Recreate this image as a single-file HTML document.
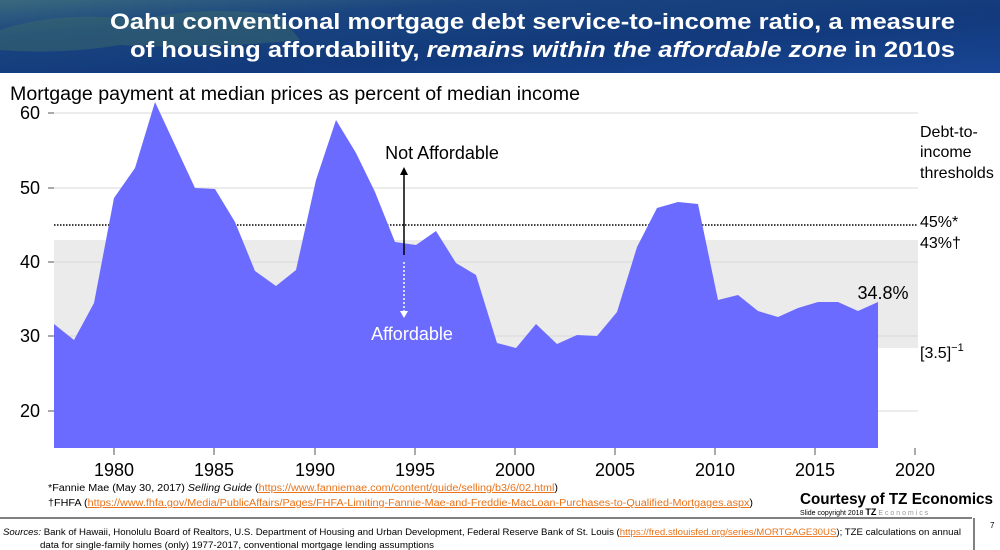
<!DOCTYPE html>
<html><head><meta charset="utf-8"><style>
html,body{margin:0;padding:0;background:#fff;}
svg{display:block;font-family:"Liberation Sans",Arial,sans-serif;}
</style></head><body>
<svg width="1000" height="550" viewBox="0 0 1000 550" xmlns="http://www.w3.org/2000/svg">
<defs>
<linearGradient id="bg" x1="0" y1="0" x2="1" y2="1">
<stop offset="0" stop-color="#3a6a7e"/><stop offset="0.25" stop-color="#1a4580"/><stop offset="0.6" stop-color="#123a7c"/><stop offset="1" stop-color="#184594"/>
</linearGradient>
</defs>
<rect x="0" y="0" width="1000" height="73" fill="url(#bg)"/>
<path d="M0 30 Q60 10 140 20 Q200 5 280 15 L300 40 Q200 50 120 45 Q60 55 0 50Z" fill="#3c6a6a" opacity="0.5"/>
<text x="955" y="29" text-anchor="end" fill="#fff" font-weight="bold" font-size="22" textLength="845" lengthAdjust="spacingAndGlyphs">Oahu conventional mortgage debt service-to-income ratio, a measure</text>
<text x="955" y="57" text-anchor="end" fill="#fff" font-weight="bold" font-size="22" textLength="825" lengthAdjust="spacingAndGlyphs">of housing affordability, <tspan font-style="italic">remains within the affordable zone</tspan> in 2010s</text>

<text x="10" y="100" font-size="19" fill="#000" textLength="570" lengthAdjust="spacingAndGlyphs">Mortgage payment at median prices as percent of median income</text>

<rect x="54" y="240" width="864" height="108" fill="#ebebeb"/>
<g stroke="#d9d9d9" stroke-width="1">
<line x1="54" y1="113" x2="918" y2="113"/><line x1="54" y1="188" x2="918" y2="188"/>
<line x1="54" y1="262" x2="918" y2="262"/><line x1="54" y1="336" x2="918" y2="336"/>
<line x1="54" y1="411" x2="918" y2="411"/>
</g>
<line x1="54" y1="225" x2="918" y2="225" stroke="#000" stroke-width="1.5" stroke-dasharray="1.5,1.5"/>
<g stroke="#555" stroke-width="1"><line x1="48" y1="113" x2="54" y2="113"/><line x1="48" y1="188" x2="54" y2="188"/><line x1="48" y1="262" x2="54" y2="262"/><line x1="48" y1="336" x2="54" y2="336"/><line x1="48" y1="411" x2="54" y2="411"/></g>

<polygon fill="#6b6bff" points="54,448 54,324 74,340 94,303 114,198 135,168 155,102 175,145 195,188 215,189 235,222 255,271 276,286 296,270 316,180 336,120 356,153 375,192 395,242 416,245 436,231 456,263 476,275 497,343 516,348 536,324 557,344 577,335 597,336 617,312 637,247 657,208 678,202 698,204 718,300 738,295 758,311 778,317 798,308 818,302 838,302 858,311 878,302 878,448"/>

<g stroke="#555" stroke-width="1">
<line x1="114" y1="448" x2="114" y2="455"/><line x1="214" y1="448" x2="214" y2="455"/><line x1="315" y1="448" x2="315" y2="455"/><line x1="415" y1="448" x2="415" y2="455"/><line x1="515" y1="448" x2="515" y2="455"/><line x1="615" y1="448" x2="615" y2="455"/><line x1="715" y1="448" x2="715" y2="455"/><line x1="815" y1="448" x2="815" y2="455"/><line x1="915" y1="448" x2="915" y2="455"/>
</g>
<g font-size="18" fill="#000" text-anchor="middle">
<text x="114" y="476">1980</text><text x="214" y="476">1985</text><text x="315" y="476">1990</text><text x="415" y="476">1995</text><text x="515" y="476">2000</text><text x="615" y="476">2005</text><text x="715" y="476">2010</text><text x="815" y="476">2015</text><text x="915" y="476">2020</text>
</g>
<g font-size="18" fill="#000" text-anchor="end">
<text x="40" y="119">60</text><text x="40" y="194">50</text><text x="40" y="268">40</text><text x="40" y="342">30</text><text x="40" y="417">20</text>
</g>

<line x1="404" y1="255" x2="404" y2="174" stroke="#000" stroke-width="1.5"/>
<polygon points="404,167 400,175 408,175" fill="#000"/>
<line x1="404" y1="262" x2="404" y2="312" stroke="#fff" stroke-width="1.5" stroke-dasharray="2,2"/>
<polygon points="404,318 400,311 408,311" fill="#fff"/>
<text x="442" y="159" font-size="18" text-anchor="middle" fill="#000">Not Affordable</text>
<text x="412" y="340" font-size="18" text-anchor="middle" fill="#fff">Affordable</text>
<text x="883" y="299" font-size="18" text-anchor="middle" fill="#000">34.8%</text>

<g font-size="16" fill="#000">
<text x="920" y="137">Debt-to-</text><text x="920" y="157">income</text><text x="920" y="178">thresholds</text>
<text x="920" y="227">45%*</text><text x="920" y="248">43%†</text>
<text x="920" y="358">[3.5]<tspan font-size="11" dy="-7">−1</tspan></text>
</g>

<g font-size="10" fill="#000">
<text x="48" y="491" textLength="510" lengthAdjust="spacingAndGlyphs">*Fannie Mae (May 30, 2017) <tspan font-style="italic">Selling Guide</tspan> (<tspan fill="#e8731a" text-decoration="underline">https://www.fanniemae.com/content/guide/selling/b3/6/02.html</tspan>)</text>
<text x="48" y="506" textLength="705" lengthAdjust="spacingAndGlyphs">†FHFA (<tspan fill="#e8731a" text-decoration="underline">https://www.fhfa.gov/Media/PublicAffairs/Pages/FHFA-Limiting-Fannie-Mae-and-Freddie-MacLoan-Purchases-to-Qualified-Mortgages.aspx</tspan>)</text>
</g>
<text x="800" y="504" font-size="16" font-weight="bold" fill="#000" textLength="193" lengthAdjust="spacingAndGlyphs">Courtesy of TZ Economics</text>
<text x="800" y="515" font-size="7" fill="#000">Slide copyright 2018 <tspan font-weight="bold" font-size="9">TZ</tspan> <tspan fill="#999">E c o n o m i c s</tspan></text>
<line x1="0" y1="518" x2="972" y2="518" stroke="#000" stroke-width="1"/>
<line x1="974" y1="518" x2="974" y2="550" stroke="#000" stroke-width="1"/>
<text x="990" y="528" font-size="8" fill="#000">7</text>
<g font-size="9" fill="#000">
<text x="3" y="535" textLength="958" lengthAdjust="spacingAndGlyphs"><tspan font-style="italic">Sources:</tspan>  Bank of Hawaii, Honolulu Board of Realtors, U.S. Department of Housing and Urban Development, Federal Reserve Bank of St. Louis (<tspan fill="#e8731a" text-decoration="underline">https://fred.stlouisfed.org/series/MORTGAGE30US</tspan>); TZE calculations on annual</text>
<text x="40" y="548" textLength="394" lengthAdjust="spacingAndGlyphs">data for single-family homes (only) 1977-2017, conventional mortgage lending assumptions</text>
</g>
</svg>
</body></html>
